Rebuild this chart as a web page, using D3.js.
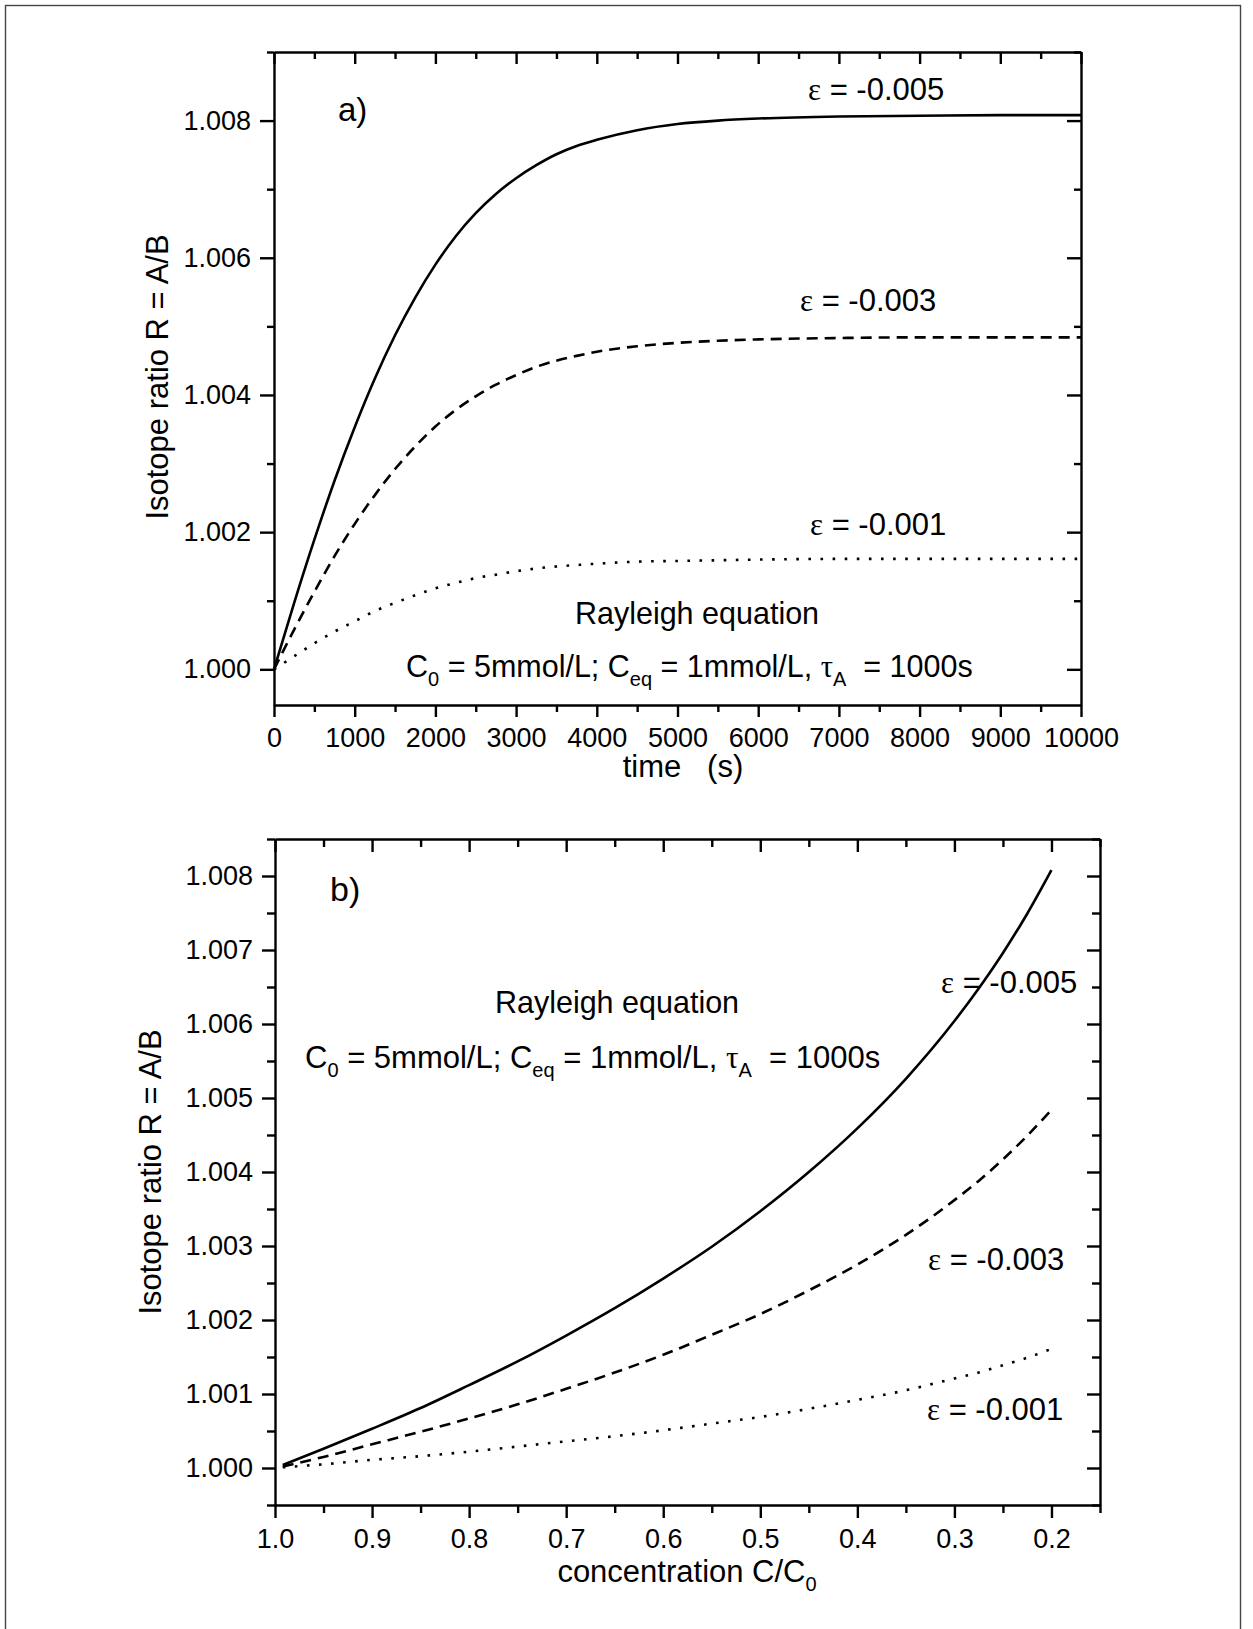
<!DOCTYPE html>
<html>
<head>
<meta charset="utf-8">
<script src="https://cdn.jsdelivr.net/npm/d3@7"></script>
<style>
  html, body { margin: 0; padding: 0; background: #fff; }
  svg { display: block; }
  text { font-family: "Liberation Sans", Arial, sans-serif; fill: #000; white-space: pre; }
</style>
</head>
<body>
<svg id="chart" width="1253" height="1629"></svg>
<script>
// ---------------- DATA ----------------
// Panel a: isotope ratio vs time
const timeSeconds = [0, 250, 500, 750, 1000, 1250, 1500, 1750, 2000, 2250, 2500, 2750, 3000, 3250, 3500, 3750, 4000, 4500, 5000, 5500, 6000, 7000, 8000, 9000, 10000];
const ratioTimeEps005 = [1.00000, 1.00097, 1.00189, 1.00275, 1.00353, 1.00424, 1.00487, 1.00542, 1.00590, 1.00631, 1.00665, 1.00693, 1.00716, 1.00735, 1.00751, 1.00763, 1.00772, 1.00786, 1.00795, 1.00800, 1.00803, 1.00806, 1.00807, 1.00808, 1.00808];
const ratioTimeEps003 = [1.00000, 1.00058, 1.00113, 1.00165, 1.00212, 1.00254, 1.00292, 1.00325, 1.00354, 1.00378, 1.00398, 1.00415, 1.00429, 1.00441, 1.00450, 1.00457, 1.00463, 1.00471, 1.00476, 1.00479, 1.00481, 1.00483, 1.00484, 1.00484, 1.00484];
const ratioTimeEps001 = [1.00000, 1.00019, 1.00038, 1.00055, 1.00070, 1.00085, 1.00097, 1.00108, 1.00118, 1.00126, 1.00133, 1.00138, 1.00143, 1.00147, 1.00150, 1.00152, 1.00154, 1.00157, 1.00158, 1.00159, 1.00160, 1.00161, 1.00161, 1.00161, 1.00161];

// Panel b: isotope ratio vs concentration C/C0
const concRatio = [0.992, 0.95, 0.90, 0.85, 0.80, 0.75, 0.70, 0.65, 0.60, 0.55, 0.50, 0.45, 0.40, 0.35, 0.30, 0.275, 0.25, 0.225, 0.20];
const ratioConcEps005 = [1.00004, 1.00026, 1.00053, 1.00081, 1.00112, 1.00144, 1.00179, 1.00216, 1.00256, 1.00299, 1.00347, 1.00400, 1.00459, 1.00526, 1.00604, 1.00648, 1.00696, 1.00749, 1.00808];
const ratioConcEps003 = [1.00002, 1.00015, 1.00032, 1.00049, 1.00067, 1.00086, 1.00107, 1.00129, 1.00153, 1.00180, 1.00208, 1.00240, 1.00275, 1.00315, 1.00362, 1.00388, 1.00417, 1.00449, 1.00484];
const ratioConcEps001 = [1.00001, 1.00005, 1.00011, 1.00016, 1.00022, 1.00029, 1.00036, 1.00043, 1.00051, 1.00060, 1.00069, 1.00080, 1.00092, 1.00105, 1.00121, 1.00129, 1.00139, 1.00149, 1.00161];

// Tick values
const timeMajorTicks = [0, 1000, 2000, 3000, 4000, 5000, 6000, 7000, 8000, 9000, 10000];
const timeMinorTicks = [500, 1500, 2500, 3500, 4500, 5500, 6500, 7500, 8500, 9500];
const ratioMajorTicksA = [1.000, 1.002, 1.004, 1.006, 1.008];
const ratioMinorTicksA = [1.001, 1.003, 1.005, 1.007, 1.009];
const concMajorTicks = [1.0, 0.9, 0.8, 0.7, 0.6, 0.5, 0.4, 0.3, 0.2];
const concMinorTicks = [0.95, 0.85, 0.75, 0.65, 0.55, 0.45, 0.35, 0.25, 0.15];
const ratioMajorTicksB = [1.000, 1.001, 1.002, 1.003, 1.004, 1.005, 1.006, 1.007, 1.008];
const ratioMinorTicksB = [0.9995, 1.0005, 1.0015, 1.0025, 1.0035, 1.0045, 1.0055, 1.0065, 1.0075, 1.0085];

const epsLabels = ["-0.005", "-0.003", "-0.001"];

// ---------------- DRAW ----------------
const svg = d3.select("#chart");
const W = 1253, H = 1629;
svg.append("rect").attr("x", 0).attr("y", 0).attr("width", W).attr("height", H).attr("fill", "#fff");
// outer frame
svg.append("rect").attr("x", 5.5).attr("y", 5.5).attr("width", 1235).attr("height", 1640)
  .attr("fill", "none").attr("stroke", "#444").attr("stroke-width", 1.4);

const AX_W = 2.4;
const LINE_W = 2.6;
const TICK_FS = 27;
const ANN_FS = 31;

function styleAxis(g) {
  g.selectAll("path.domain").attr("stroke", "#000").attr("stroke-width", AX_W);
  g.selectAll(".tick line").attr("stroke", "#000").attr("stroke-width", AX_W);
  g.selectAll(".tick text").attr("font-size", TICK_FS).attr("fill", "#000");
}

function drawFrame(x, y, cfg) {
  const [x0, x1] = x.range();
  const [y0, y1] = y.range(); // y0 bottom, y1 top
  const g = svg.append("g");
  const bMaj = g.append("g").attr("transform", `translate(0,${y0})`)
    .call(d3.axisBottom(x).tickValues(cfg.xMajor).tickSize(cfg.xMajLen).tickSizeOuter(0).tickPadding(cfg.xPad).tickFormat(cfg.xFmt));
  styleAxis(bMaj);
  const bMin = g.append("g").attr("transform", `translate(0,${y0})`)
    .call(d3.axisBottom(x).tickValues(cfg.xMinor).tickSize(cfg.xMinLen).tickFormat(""));
  bMin.select("path.domain").remove(); styleAxis(bMin);
  const tMaj = g.append("g").attr("transform", `translate(0,${y1})`)
    .call(d3.axisBottom(x).tickValues(cfg.xMajor).tickSize(cfg.xMajLen).tickSizeOuter(0).tickFormat(""));
  styleAxis(tMaj);
  const tMin = g.append("g").attr("transform", `translate(0,${y1})`)
    .call(d3.axisBottom(x).tickValues(cfg.xMinor).tickSize(cfg.xMinLen).tickFormat(""));
  tMin.select("path.domain").remove(); styleAxis(tMin);
  const lMaj = g.append("g").attr("transform", `translate(${x0},0)`)
    .call(d3.axisLeft(y).tickValues(cfg.yMajor).tickSize(cfg.yMajLen).tickSizeOuter(0).tickPadding(9).tickFormat(d3.format(".3f")));
  styleAxis(lMaj);
  const lMin = g.append("g").attr("transform", `translate(${x0},0)`)
    .call(d3.axisLeft(y).tickValues(cfg.yMinor).tickSize(cfg.yMinLen).tickFormat(""));
  lMin.select("path.domain").remove(); styleAxis(lMin);
  const rMaj = g.append("g").attr("transform", `translate(${x1},0)`)
    .call(d3.axisLeft(y).tickValues(cfg.yMajor).tickSize(cfg.yMajLen).tickSizeOuter(0).tickFormat(""));
  styleAxis(rMaj);
  const rMin = g.append("g").attr("transform", `translate(${x1},0)`)
    .call(d3.axisLeft(y).tickValues(cfg.yMinor).tickSize(cfg.yMinLen).tickFormat(""));
  rMin.select("path.domain").remove(); styleAxis(rMin);
  // top/right ticks point inward
  tMaj.selectAll(".tick line").attr("y2", cfg.xMajLen);
  tMin.selectAll(".tick line").attr("y2", cfg.xMinLen);
  rMaj.selectAll(".tick line").attr("x2", -cfg.yMajLen);
  rMin.selectAll(".tick line").attr("x2", -cfg.yMinLen);
}

function richText(parent, x, y, segs, size, anchor) {
  const t = parent.append("text").attr("x", x).attr("y", y).attr("font-size", size)
    .attr("text-anchor", anchor || "start");
  let shift = 0;
  segs.forEach(s => {
    const ts = t.append("tspan").text(s.t);
    const want = s.sub ? Math.round(size * 0.28) : 0;
    if (want !== shift) { ts.attr("dy", want - shift); shift = want; }
    if (s.sub) ts.attr("font-size", Math.round(size * 0.66));
    if (s.greek) ts.attr("font-family", "'Liberation Serif', 'Times New Roman', serif");
  });
  return t;
}

const paramSegs = [
  { t: "C" }, { t: "0", sub: true }, { t: " = 5mmol/L; C" }, { t: "eq", sub: true },
  { t: " = 1mmol/L, " }, { t: "\u03C4", greek: true }, { t: "A", sub: true }, { t: "  = 1000s" }
];
function epsSegs(v) { return [{ t: "\u03B5", greek: true }, { t: " = " + v }]; }

function drawCurves(x, y, xs, series) {
  const line = d3.line().x((d, i) => x(xs[i])).y(d => y(d)).curve(d3.curveMonotoneX);
  const dashes = [null, "11,7", "2.6,9.5"];
  series.forEach((s, i) => {
    svg.append("path").attr("d", line(s)).attr("fill", "none").attr("stroke", "#000")
      .attr("stroke-width", LINE_W).attr("stroke-dasharray", dashes[i]);
  });
}

// ---- Panel a ----
const xA = d3.scaleLinear().domain([0, 10000]).range([274, 1081]);
const yA = d3.scaleLinear().domain([0.99948, 1.009]).range([705, 52]);
drawCurves(xA, yA, timeSeconds, [ratioTimeEps005, ratioTimeEps003, ratioTimeEps001]);
drawFrame(xA, yA, {
  xMajor: timeMajorTicks, xMinor: timeMinorTicks, xFmt: d3.format("d"), xPad: 11,
  yMajor: ratioMajorTicksA, yMinor: ratioMinorTicksA,
  xMajLen: 12, xMinLen: 7, yMajLen: 14, yMinLen: 7
});
const gA = svg.append("g");
gA.append("text").attr("x", 338).attr("y", 121).attr("font-size", 33).text("a)");
richText(gA, 808, 100, epsSegs(epsLabels[0]), ANN_FS);
richText(gA, 800, 311, epsSegs(epsLabels[1]), ANN_FS);
richText(gA, 810, 535, epsSegs(epsLabels[2]), ANN_FS);
gA.append("text").attr("x", 697).attr("y", 624).attr("font-size", 30.5).attr("text-anchor", "middle").text("Rayleigh equation");
richText(gA, 406, 677, paramSegs, 30.5);
gA.append("text").attr("x", 683).attr("y", 777).attr("font-size", ANN_FS).attr("text-anchor", "middle").text("time   (s)");
gA.append("text").attr("transform", "translate(168,377) rotate(-90)").attr("font-size", ANN_FS)
  .attr("text-anchor", "middle").text("Isotope ratio R = A/B");

// ---- Panel b ----
const xB = d3.scaleLinear().domain([1.0, 0.15]).range([275, 1100]);
const yB = d3.scaleLinear().domain([0.9995, 1.0085]).range([1505, 839]);
drawCurves(xB, yB, concRatio, [ratioConcEps005, ratioConcEps003, ratioConcEps001]);
drawFrame(xB, yB, {
  xMajor: concMajorTicks, xMinor: concMinorTicks, xFmt: d3.format(".1f"), xPad: 11,
  yMajor: ratioMajorTicksB, yMinor: ratioMinorTicksB,
  xMajLen: 13, xMinLen: 8, yMajLen: 13, yMinLen: 8
});
const gB = svg.append("g");
gB.append("text").attr("x", 330).attr("y", 901).attr("font-size", 34).text("b)");
richText(gB, 941, 993, epsSegs(epsLabels[0]), ANN_FS);
richText(gB, 928, 1270, epsSegs(epsLabels[1]), ANN_FS);
richText(gB, 927, 1420, epsSegs(epsLabels[2]), ANN_FS);
gB.append("text").attr("x", 617).attr("y", 1013).attr("font-size", 30.5).attr("text-anchor", "middle").text("Rayleigh equation");
richText(gB, 305, 1068, paramSegs, ANN_FS);
richText(gB, 687, 1582, [{ t: "concentration C/C" }, { t: "0", sub: true }], ANN_FS, "middle");
gB.append("text").attr("transform", "translate(161,1172) rotate(-90)").attr("font-size", ANN_FS)
  .attr("text-anchor", "middle").text("Isotope ratio R = A/B");
</script>
</body>
</html>
